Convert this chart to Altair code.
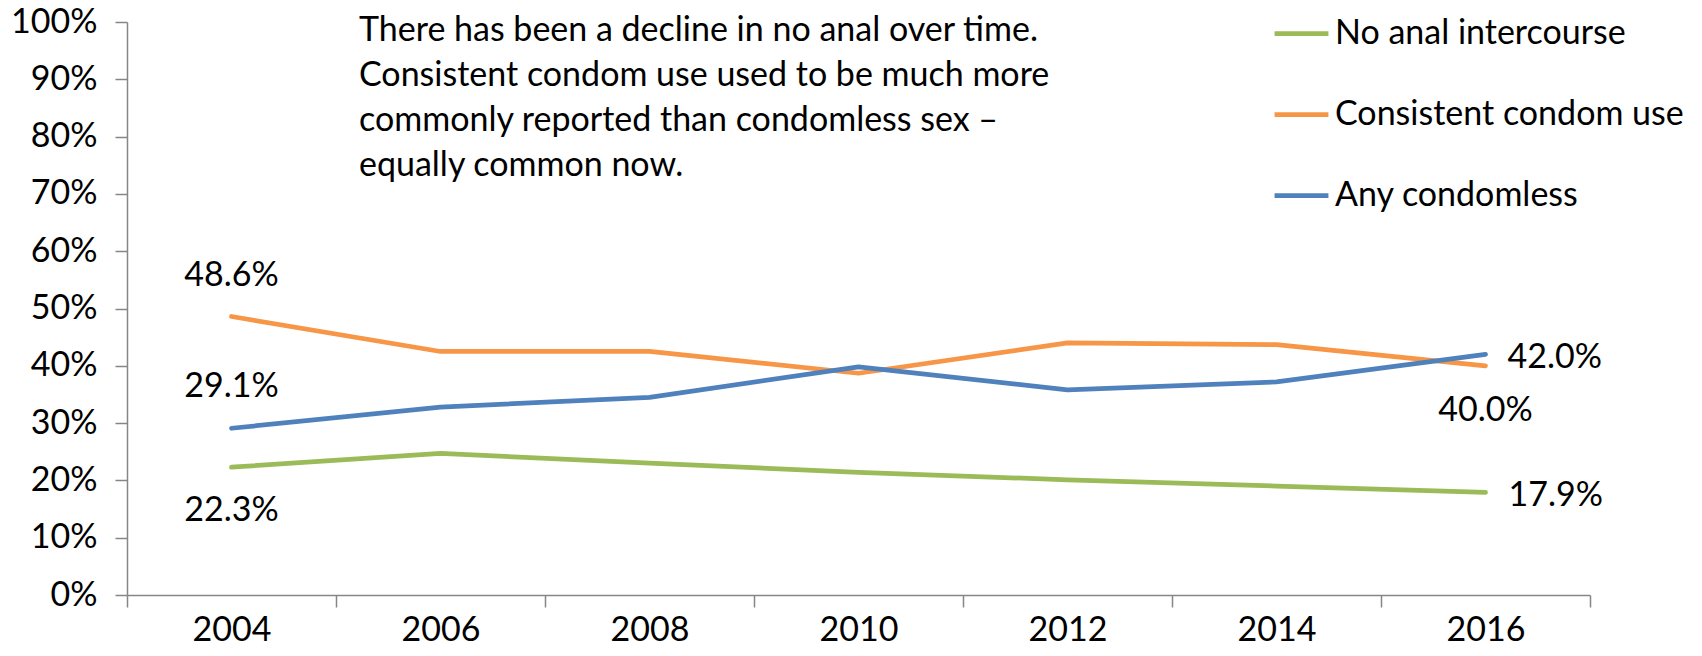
import altair as alt
import pandas as pd

years = ["2004", "2006", "2008", "2010", "2012", "2014", "2016"]
series = ["No anal intercourse", "Consistent condom use", "Any condomless"]
no_anal = [22.3, 24.7, 23.0, 21.4, 20.1, 19.0, 17.9]
consistent = [48.6, 42.5, 42.5, 38.7, 44.0, 43.7, 40.0]
condomless = [29.1, 32.8, 34.5, 39.8, 35.8, 37.2, 42.0]
colors = ["#9BBB59", "#F79646", "#4F81BD"]
y_ticks = [0, 0.1, 0.2, 0.3, 0.4, 0.5, 0.6, 0.7, 0.8, 0.9, 1.0]
note_lines = [
    "There has been a decline in no anal over time.",
    "Consistent condom use used to be much more",
    "commonly reported than condomless sex \u2013",
    "equally common now.",
]

rows = []
for s, vals in zip(series, [no_anal, consistent, condomless]):
    for yr, v in zip(years, vals):
        rows.append({"year": yr, "series": s, "value": v / 100})
df = pd.DataFrame(rows)

FONT = "Lato"
FS = 34
AXIS_COLOR = "#868686"

x_enc = alt.X(
    "year:N",
    sort=years,
    bandPosition=0.5,
    scale=alt.Scale(type="band", paddingInner=0, paddingOuter=0),
    axis=alt.Axis(
        title=None, labelAngle=0, tickBand="extent", grid=False,
        tickSize=12, labelPadding=6, labelFont=FONT, labelFontSize=FS,
        labelColor="black", domainColor=AXIS_COLOR, tickColor=AXIS_COLOR,
        domainWidth=1.5, tickWidth=1.5,
    ),
)
y_enc = alt.Y(
    "value:Q",
    scale=alt.Scale(domain=[0, 1], nice=False),
    axis=alt.Axis(
        title=None, values=y_ticks, format=".0%", grid=False,
        tickSize=12, labelPadding=18, labelFont=FONT, labelFontSize=FS,
        labelColor="black", domainColor=AXIS_COLOR, tickColor=AXIS_COLOR,
        domainWidth=1.5, tickWidth=1.5,
    ),
)

lines = alt.Chart(df).mark_line(
    strokeWidth=4.75, strokeCap="round", strokeJoin="round"
).encode(
    x=x_enc,
    y=y_enc,
    color=alt.Color(
        "series:N",
        scale=alt.Scale(domain=series, range=colors),
        legend=alt.Legend(
            title=None, orient="none", legendX=1145, legendY=-18,
            direction="vertical", symbolType="stroke", symbolSize=2900,
            symbolStrokeWidth=4.75, labelFont=FONT, labelFontSize=FS,
            labelColor="black", labelOffset=4, rowPadding=34,
            labelLimit=600,
        ),
    ),
)


def label(series_name, year, dx, dy, align):
    return alt.Chart(df).transform_filter(
        (alt.datum.series == series_name) & (alt.datum.year == year)
    ).mark_text(
        dx=dx, dy=dy, align=align, baseline="middle",
        font=FONT, fontSize=FS, color="black",
    ).encode(
        x=x_enc, y=y_enc, text=alt.Text("value:Q", format=".1%")
    )


labels = [
    label(series[1], "2004", 0, -41, "center"),
    label(series[2], "2004", 0, -41, "center"),
    label(series[0], "2004", 0, 44, "center"),
    label(series[2], "2016", 22, 4, "left"),
    label(series[1], "2016", 0, 45, "center"),
    label(series[0], "2016", 23, 4, "left"),
]

note_df = pd.DataFrame({"note": ["\n".join(note_lines)]})
note = alt.Chart(note_df).mark_text(
    align="left", baseline="alphabetic", lineBreak="\n", lineHeight=45,
    font=FONT, fontSize=FS, color="black",
).encode(
    x=alt.value(232), y=alt.value(19), text="note:N"
)

chart = alt.layer(lines, *labels, note).properties(
    width=1463,
    height=573,
    autosize=alt.AutoSizeParams(type="none"),
    padding={"left": 119, "top": 14, "right": 100, "bottom": 59},
    background="white",
).configure_view(stroke=None)

chart.save("out.html", embed_options={"renderer": "svg", "actions": False})
